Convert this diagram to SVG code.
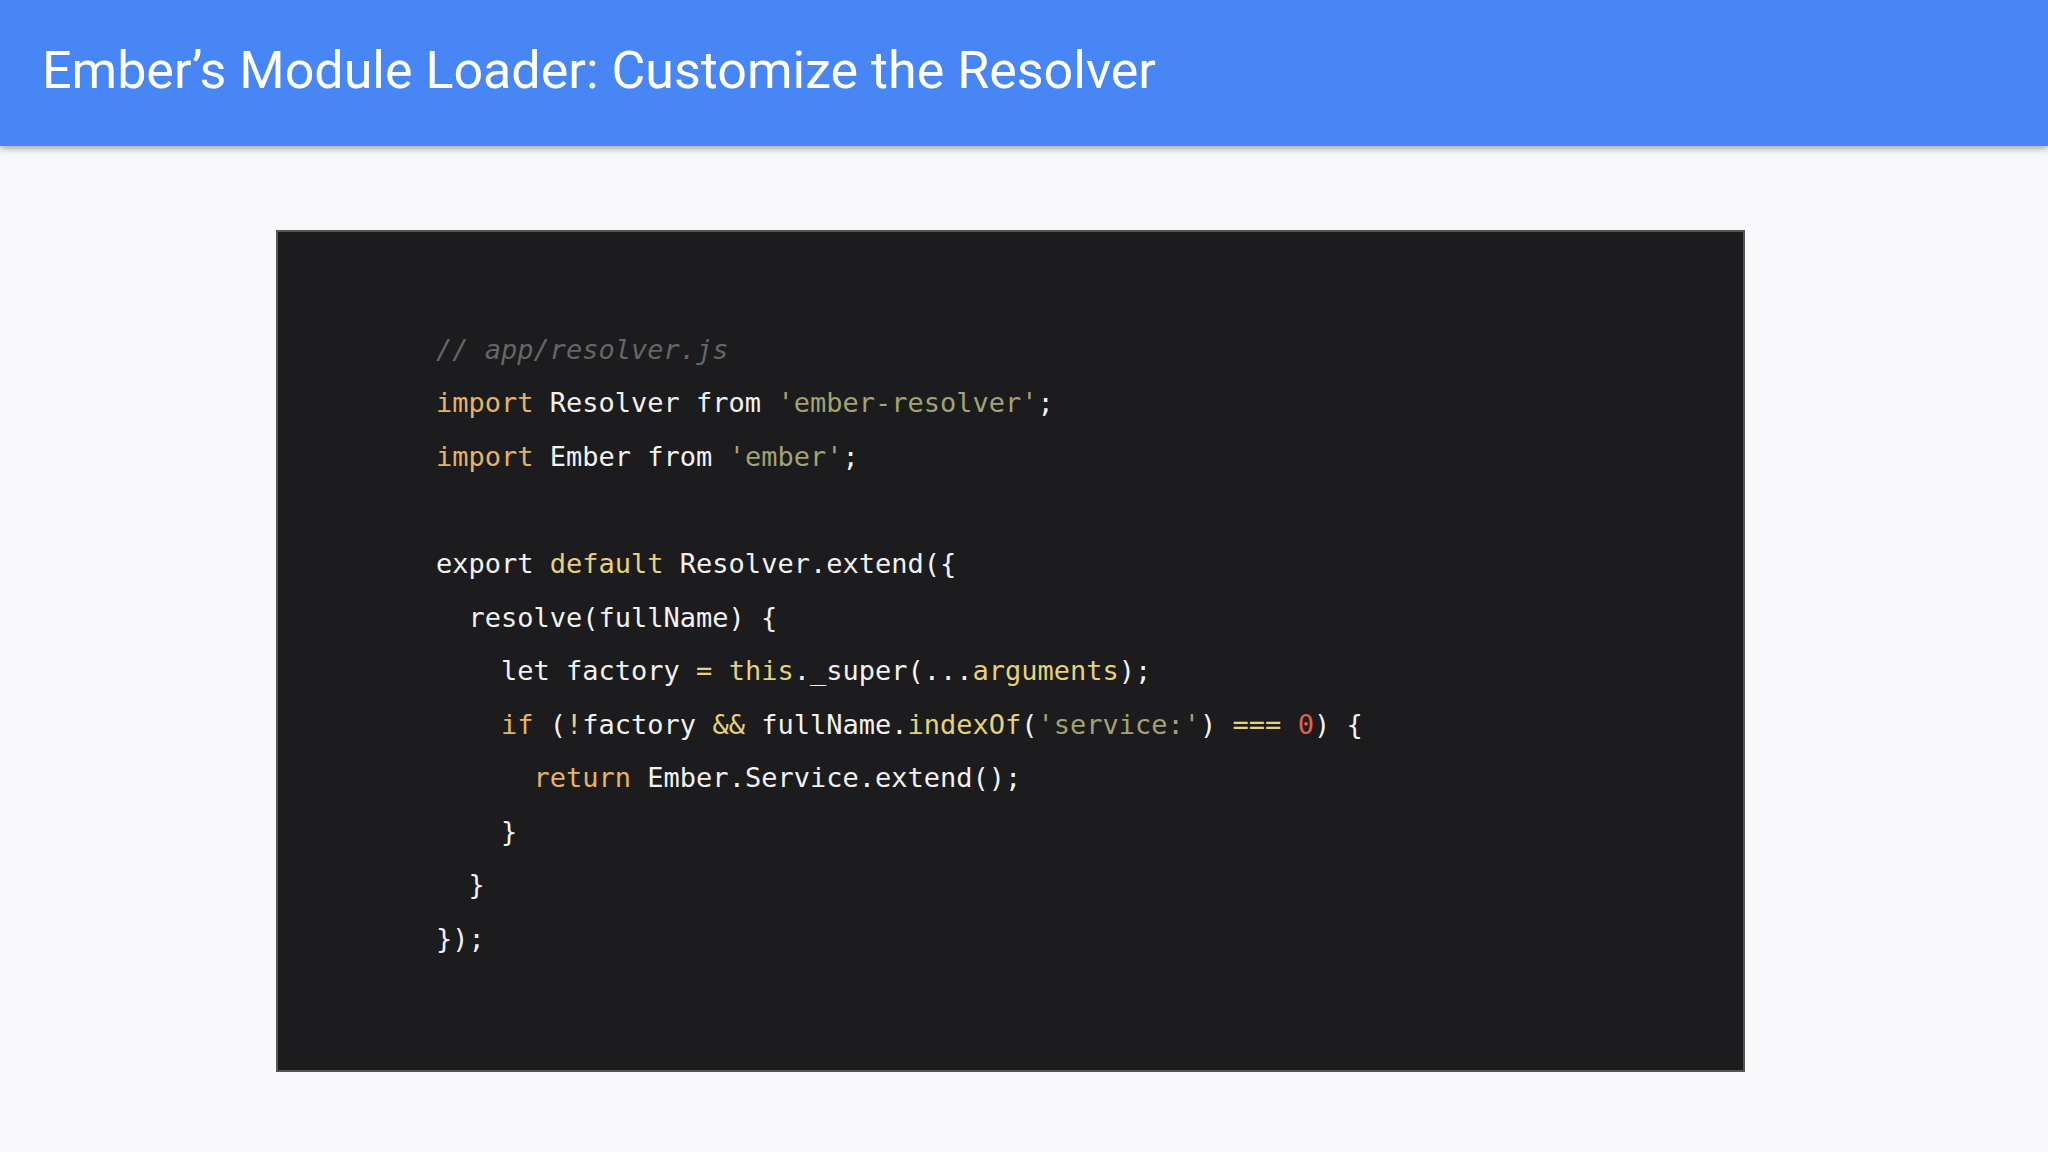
<svg xmlns="http://www.w3.org/2000/svg" width="2048" height="1152" viewBox="0 0 2048 1152">
<defs>
<filter id="sh" x="-5%" y="-50%" width="110%" height="200%"><feDropShadow dx="0" dy="3" stdDeviation="3" flood-color="#000" flood-opacity="0.3"/></filter>
</defs>
<style>
.code{font-family:"DejaVu Sans Mono","Liberation Mono",monospace;font-size:27px;fill:#f2f2f2;white-space:pre}
.k{fill:#e3b468}.s{fill:#a3a274}.c{fill:#666;font-style:italic}.y{fill:#e5d27a}.n{fill:#e0634c}
</style>
<rect width="2048" height="1152" fill="#f8f8fa"/>
<g id="header">
<rect width="2048" height="146" fill="#4686f4" filter="url(#sh)"/>
<text x="42" y="88" font-family="Roboto,'Liberation Sans',sans-serif" font-size="52" fill="#fff">Ember’s Module Loader: Customize the Resolver</text>
</g>
<g id="codebox">
<rect x="277" y="231" width="1467" height="840" fill="#1c1b1d" stroke="#555" stroke-width="2"/>
<text class="code" xml:space="preserve">
<tspan x="436" y="359" class="c">// app/resolver.js</tspan>
<tspan x="436" y="412"><tspan class="k">import</tspan> Resolver from <tspan class="s">'ember-resolver'</tspan>;</tspan>
<tspan x="436" y="466"><tspan class="k">import</tspan> Ember from <tspan class="s">'ember'</tspan>;</tspan>
<tspan x="436" y="573">export <tspan class="y">default</tspan> Resolver.extend({</tspan>
<tspan x="436" y="627">  resolve(fullName) {</tspan>
<tspan x="436" y="680">    let factory <tspan class="y">=</tspan> <tspan class="y">this</tspan>._super(...<tspan class="y">arguments</tspan>);</tspan>
<tspan x="436" y="734">    <tspan class="k">if</tspan> (<tspan class="y">!</tspan>factory <tspan class="y">&amp;&amp;</tspan> fullName.<tspan class="y">indexOf</tspan>(<tspan class="s">'service:'</tspan>) <tspan class="y">===</tspan> <tspan class="n">0</tspan>) {</tspan>
<tspan x="436" y="787">      <tspan class="k">return</tspan> Ember.Service.extend();</tspan>
<tspan x="436" y="841">    }</tspan>
<tspan x="436" y="894">  }</tspan>
<tspan x="436" y="948">});</tspan>
</text>
</g>
</svg>
